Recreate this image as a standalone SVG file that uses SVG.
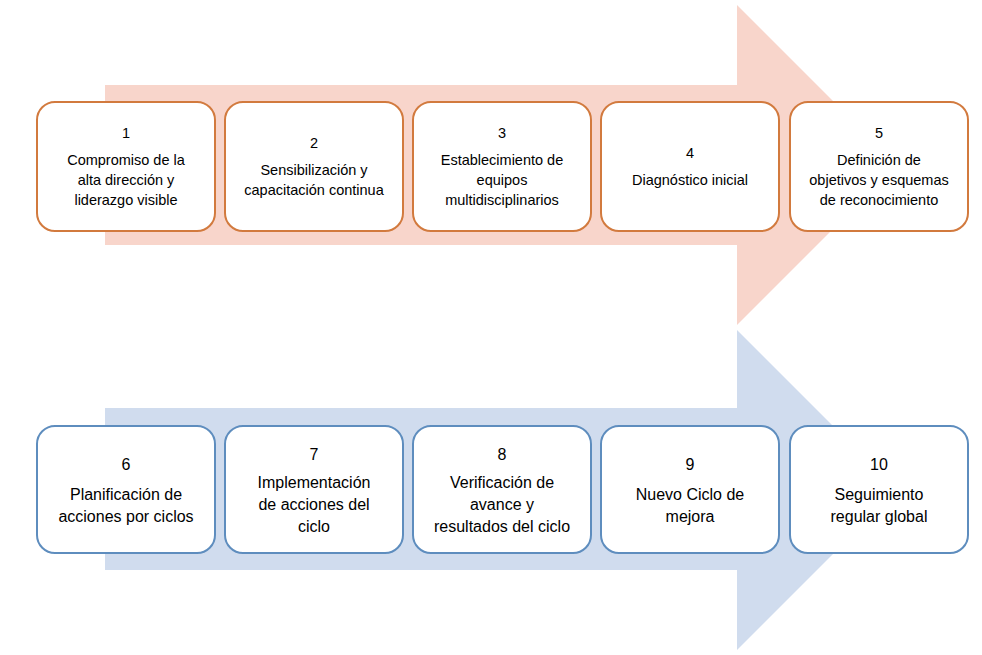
<svg xmlns="http://www.w3.org/2000/svg" width="982" height="655" viewBox="0 0 982 655">
<style>
.box{fill:#fff;stroke-width:2}
.o{stroke:#D27A3E}.b{stroke:#5E8DBE}
text{font-family:"Liberation Sans","Open Sans",sans-serif;font-size:14.5px;fill:#000;text-anchor:middle}
.n{font-size:16px}
</style>
<rect width="982" height="655" fill="#fff"/>
<g id="arrows">
<polygon points="105,85 737,85 737,5 897,165 737,325 737,245 105,245" fill="#F8D5CB"/>
<polygon points="105,408 737,408 737,330 897,490 737,650 737,570 105,570" fill="#D0DCEE"/>
</g>
<g id="n1"><rect class="box o" x="37" y="102" width="178" height="129" rx="18"/><text x="126" y="138">1</text><text x="126" y="165">Compromiso de la</text><text x="126" y="185">alta dirección y</text><text x="126" y="205">liderazgo visible</text></g>
<g id="n2"><rect class="box o" x="225" y="102" width="178" height="129" rx="18"/><text x="314" y="148">2</text><text x="314" y="175">Sensibilización y</text><text x="314" y="195">capacitación continua</text></g>
<g id="n3"><rect class="box o" x="413" y="102" width="178" height="129" rx="18"/><text x="502" y="138">3</text><text x="502" y="165">Establecimiento de</text><text x="502" y="185">equipos</text><text x="502" y="205">multidisciplinarios</text></g>
<g id="n4"><rect class="box o" x="601" y="102" width="178" height="129" rx="18"/><text x="690" y="158">4</text><text x="690" y="185">Diagnóstico inicial</text></g>
<g id="n5"><rect class="box o" x="790" y="102" width="178" height="129" rx="18"/><text x="879" y="138">5</text><text x="879" y="165">Definición de</text><text x="879" y="185">objetivos y esquemas</text><text x="879" y="205">de reconocimiento</text></g>
<g id="n6"><rect class="box b" x="37" y="426" width="178" height="127" rx="18"/><text class="n" x="126" y="470">6</text><text class="n" x="126" y="500">Planificación de</text><text class="n" x="126" y="522">acciones por ciclos</text></g>
<g id="n7"><rect class="box b" x="225" y="426" width="178" height="127" rx="18"/><text class="n" x="314" y="460">7</text><text class="n" x="314" y="488">Implementación</text><text class="n" x="314" y="510">de acciones del</text><text class="n" x="314" y="532">ciclo</text></g>
<g id="n8"><rect class="box b" x="413" y="426" width="178" height="127" rx="18"/><text class="n" x="502" y="460">8</text><text class="n" x="502" y="488">Verificación de</text><text class="n" x="502" y="510">avance y</text><text class="n" x="502" y="532">resultados del ciclo</text></g>
<g id="n9"><rect class="box b" x="601" y="426" width="178" height="127" rx="18"/><text class="n" x="690" y="470">9</text><text class="n" x="690" y="500">Nuevo Ciclo de</text><text class="n" x="690" y="522">mejora</text></g>
<g id="n10"><rect class="box b" x="790" y="426" width="178" height="127" rx="18"/><text class="n" x="879" y="470">10</text><text class="n" x="879" y="500">Seguimiento</text><text class="n" x="879" y="522">regular global</text></g>
</svg>
